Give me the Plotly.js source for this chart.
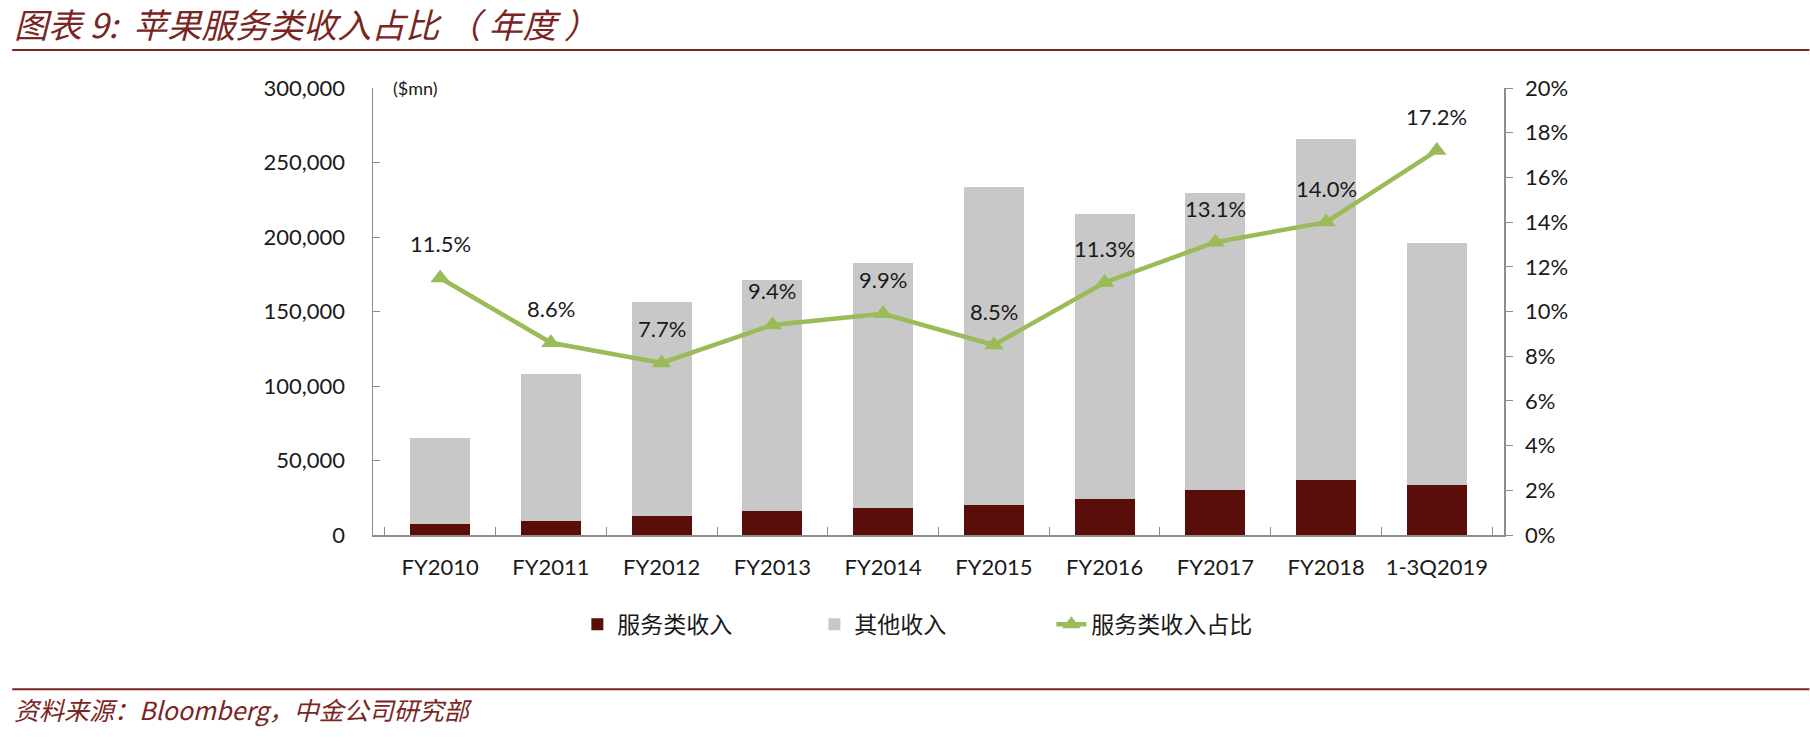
<!DOCTYPE html>
<html>
<head>
<meta charset="utf-8">
<script src="https://cdn.plot.ly/plotly-3.0.1.min.js"></script>
<style>
  body { margin: 0; background: #fff; }
  #chart { width: 1810px; height: 742px; }
</style>
</head>
<body>
<div id="chart"></div>
<script>
// values ($mn and share of revenue)
const years = ["FY2010", "FY2011", "FY2012", "FY2013", "FY2014", "FY2015", "FY2016", "FY2017", "FY2018", "1-3Q2019"];
const servicesRev = [7500, 9370, 12890, 16050, 18060, 19910, 24350, 29980, 37190, 33700];
const otherRev = [57720, 98880, 143620, 154860, 164730, 213810, 191290, 199250, 228410, 162400];
const servicesShare = [0.115, 0.086, 0.077, 0.094, 0.099, 0.085, 0.113, 0.131, 0.140, 0.172];
const shareLabels = ["11.5%", "8.6%", "7.7%", "9.4%", "9.9%", "8.5%", "11.3%", "13.1%", "14.0%", "17.2%"];

const darkRed = "#7a2424";
const latin = "Lato, 'Open Sans', sans-serif";
const tickFont = { family: latin, size: 22, color: "#1a1a1a" };
const cjk = "'Noto Sans CJK SC', sans-serif";

const traces = [
  {
    type: "bar", name: "服务类收入", x: years, y: servicesRev,
    marker: { color: "#5a0e09" }, width: 0.54
  },
  {
    type: "bar", name: "其他收入", x: years, y: otherRev,
    marker: { color: "#c8c8c8" }, width: 0.54
  },
  {
    type: "scatter", mode: "lines+markers", name: "服务类收入占比",
    x: years, y: servicesShare, yaxis: "y2",
    line: { color: "#9bbb59", width: 4.5 },
    marker: { symbol: "triangle-up", size: 17, color: "#9bbb59" },
    cliponaxis: false
  }
];

// percentage labels sit a bit higher above the points than plotly's text would
const labelNotes = years.map((yr, i) => ({
  x: yr, y: servicesShare[i], xref: "x", yref: "y2",
  text: shareLabels[i], showarrow: false, yshift: 34,
  font: { family: latin, size: 22, color: "#1a1a1a" }
}));

const layout = {
  width: 1810, height: 742,
  margin: { l: 373, r: 306, t: 88, b: 207 },
  paper_bgcolor: "#fff", plot_bgcolor: "#fff",
  barmode: "stack",
  showlegend: true,
  legend: {
    orientation: "h", x: 0.495, xanchor: "center", y: -0.2, yanchor: "middle",
    font: { family: cjk, size: 23, color: "#1a1a1a" },
    traceorder: "normal", entrywidth: 192, entrywidthmode: "pixels"
  },
  xaxis: {
    type: "category", showgrid: false, zeroline: false,
    showline: true, linecolor: "#8c8c8c", linewidth: 1.5,
    ticks: "inside", tickson: "boundaries", ticklen: 8, tickcolor: "#8c8c8c",
    tickangle: 0, tickfont: tickFont, ticklabelstandoff: 12
  },
  yaxis: {
    range: [0, 300000], dtick: 50000, tickformat: ",",
    showgrid: false, zeroline: false,
    showline: true, linecolor: "#8c8c8c", linewidth: 1.5,
    ticks: "inside", ticklen: 7, tickcolor: "#8c8c8c",
    tickfont: tickFont, ticklabelstandoff: 22
  },
  yaxis2: {
    overlaying: "y", side: "right",
    range: [0, 0.2], dtick: 0.02, tickformat: ".0%",
    showgrid: false, zeroline: false,
    showline: true, linecolor: "#8c8c8c", linewidth: 1.5,
    ticks: "outside", ticklen: 7, tickcolor: "#8c8c8c",
    tickfont: tickFont, ticklabelstandoff: 8
  },
  annotations: labelNotes.concat([
    {
      xref: "paper", yref: "paper", x: -0.319, y: 1.085, xanchor: "left", yanchor: "bottom",
      text: "<i>图表 9:  苹果服务类收入占比 （ 年度 ）</i>", showarrow: false,
      font: { family: cjk, size: 34, color: darkRed }
    },
    {
      xref: "paper", yref: "paper", x: 0.016, y: 1.0, xanchor: "left", yanchor: "middle",
      text: "($mn)", showarrow: false,
      font: { family: latin, size: 18, color: "#1a1a1a" }
    },
    {
      xref: "paper", yref: "paper", x: -0.319, y: -0.39, xanchor: "left", yanchor: "middle",
      text: "<i>资料来源：Bloomberg，中金公司研究部</i>", showarrow: false,
      font: { family: cjk, size: 25, color: darkRed }
    }
  ]),
  shapes: [
    {
      type: "line", xref: "paper", yref: "paper", x0: -0.319, x1: 1.27, y0: 1.085, y1: 1.085,
      line: { color: darkRed, width: 2 }
    },
    {
      type: "line", xref: "paper", yref: "paper", x0: -0.319, x1: 1.27, y0: -0.345, y1: -0.345,
      line: { color: darkRed, width: 2 }
    }
  ]
};

Plotly.newPlot("chart", traces, layout, { displayModeBar: false, staticPlot: true });
</script>
</body>
</html>
